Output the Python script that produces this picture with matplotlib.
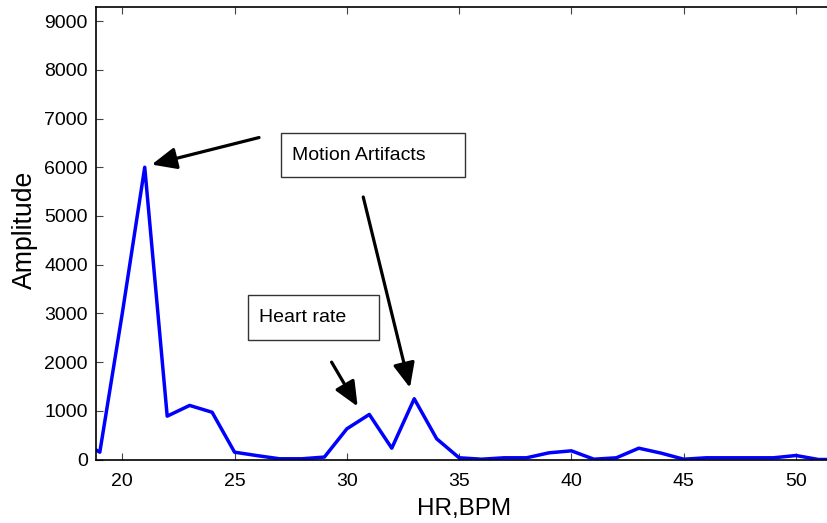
import matplotlib
matplotlib.use("Agg")
import matplotlib.pyplot as plt
from matplotlib.patches import Rectangle

plt.rcParams['font.family'] = ['Liberation Sans', 'DejaVu Sans']

# spectrum values
hr_bpm = [18, 19, 20, 21, 22, 23, 24, 25, 26, 27, 28, 29, 30, 31, 32, 33, 34, 35,
          36, 37, 38, 39, 40, 41, 42, 43, 44, 45, 46, 47, 48, 49, 50, 51, 52]
amplitude = [420, 150, 3000, 6000, 890, 1110, 970, 150, 80, 15, 15, 50, 630, 925, 232, 1247, 425, 35,
             6, 35, 35, 137, 178, 6, 35, 232, 130, 6, 35, 35, 35, 35, 82, 0, 0]

x_ticks = [20, 25, 30, 35, 40, 45, 50]
y_ticks = [0, 1000, 2000, 3000, 4000, 5000, 6000, 7000, 8000, 9000]

# annotation boxes (data coords) and arrows (tail, tip)
motion_box = (27.07, 5794, 8.2, 904)
heart_box = (25.58, 2459, 5.85, 911)
motion_arrows = [((26.09, 6610), (21.31, 6055)), ((30.73, 5389), (32.81, 1473))]
heart_arrow = ((29.32, 1999), (30.48, 1089))


def main():
    fig = plt.figure(figsize=(8.27, 5.23), dpi=100)
    ax = fig.add_axes([96 / 827, 1 - 459.5 / 523, (827 - 96) / 827, 452.5 / 523])

    ax.plot(hr_bpm, amplitude, color='#0000ff', lw=2.5)
    ax.set_xlim(18.83, 51.38)
    ax.set_ylim(0, 9290)
    ax.set_xticks(x_ticks)
    ax.set_yticks(y_ticks)
    ax.tick_params(direction='in', length=5, width=0.8, labelsize=14, top=True,
                   color='#444444')
    ax.tick_params(axis='x', pad=10)
    ax.tick_params(axis='y', pad=6)
    ax.spines['right'].set_visible(False)
    for s in ('left', 'top', 'bottom'):
        ax.spines[s].set_linewidth(1.2)

    ax.set_xlabel('HR,BPM', fontsize=17.5)
    ax.set_ylabel('Amplitude', fontsize=19.2)
    ax.xaxis.set_label_coords(0.503, -0.085)
    ax.yaxis.set_label_coords(-0.079, 0.507)

    for (bx, by, bw, bh), label in [(motion_box, 'Motion Artifacts'), (heart_box, 'Heart rate')]:
        ax.add_patch(Rectangle((bx, by), bw, bh, fill=False, ec='#333333', lw=1.0))
        ax.text(bx + 0.5, by + bh / 2, label, fontsize=14, va='center', ha='left')

    arrow_props = dict(arrowstyle='-|>,head_length=0.75,head_width=0.33', color='black',
                       lw=2.3, mutation_scale=20, shrinkA=0, shrinkB=0)
    for tail, tip in motion_arrows + [heart_arrow]:
        ax.annotate('', xy=tip, xytext=tail, arrowprops=arrow_props)

    fig.savefig('out.png', dpi=100)


if __name__ == "__main__":
    main()
